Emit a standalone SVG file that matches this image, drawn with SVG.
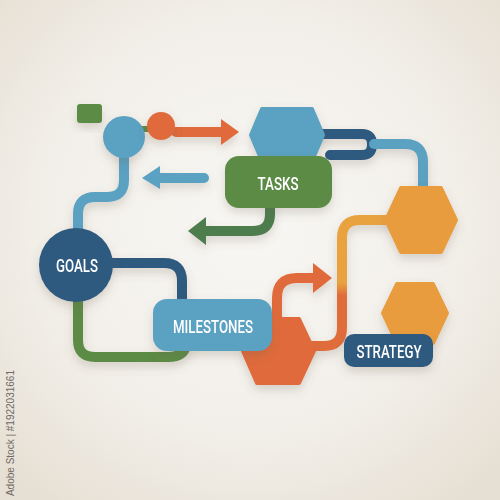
<svg xmlns="http://www.w3.org/2000/svg" width="500" height="500" viewBox="0 0 500 500">
  <defs>
    <radialGradient id="bg" cx="50%" cy="45%" r="70%">
      <stop offset="0" stop-color="#f8f7f4"/>
      <stop offset="0.6" stop-color="#f2efe9"/>
      <stop offset="1" stop-color="#e6dfd3"/>
    </radialGradient>
    <linearGradient id="yo" gradientUnits="userSpaceOnUse" x1="0" y1="220" x2="0" y2="346">
      <stop offset="0" stop-color="#e9a23f"/>
      <stop offset="0.5" stop-color="#e9a23f"/>
      <stop offset="0.6" stop-color="#e06c3a"/>
      <stop offset="1" stop-color="#e06c3a"/>
    </linearGradient>
    <filter id="sh" x="-30%" y="-30%" width="160%" height="180%">
      <feDropShadow dx="0" dy="5" stdDeviation="5" flood-color="#6b5f4d" flood-opacity="0.22"/>
    </filter>
    <style>
      .ln { fill: none; stroke-linecap: round; stroke-linejoin: round; stroke-width: 10; }
      .lbl { fill: #ffffff; font-family: Roboto, "Liberation Sans", sans-serif; font-weight: 500; font-size: 19px; text-anchor: middle; dominant-baseline: central; }
      .lblue { fill: #5aa1c2; }
      .dblue { fill: #2f5a80; }
      .green { fill: #5b8b45; }
      .orange { fill: #e06b3a; }
      .yellow { fill: #e89c3c; }
    </style>
  </defs>
  <rect x="0" y="0" width="500" height="500" fill="url(#bg)"/>

  <g id="connectors" filter="url(#sh)">
    <rect x="140" y="126" width="10" height="6" fill="#5b8b45"/>
    <path class="ln" d="M176,132 H224" stroke="#e06b3a"/>
    <polygon points="239,132 221,119 221,145" fill="#e06b3a"/>
    <path class="ln" d="M204,178 H158" stroke="#5aa1c2"/>
    <polygon points="142,178 160,166 160,189" fill="#5aa1c2"/>
    <path class="ln" d="M124,155 V180 Q124,197 107,197 H95 Q78,197 78,214 V234" stroke="#5aa1c2" stroke-linecap="butt"/>
    <path class="ln" d="M110,263 H164 Q182,263 182,281 V303" stroke="#2f5a80" stroke-linecap="butt"/>
    <path class="ln" d="M78,298 V340 Q78,357 95,357 H168 Q184,357 186,345" stroke="#5b8b45" stroke-linecap="butt"/>
    <path class="ln" d="M315,134 H362 Q372,134 372,144 V145 Q372,155 362,155 H330" stroke="#2f5a80"/>
    <path class="ln" d="M374,144 H405 Q423,144 423,162 V192" stroke="#5aa1c2" stroke-linecap="butt"/>
    <path class="ln" d="M270,205 V214 Q270,231 253,231 H203" stroke="#4e7b4e" stroke-linecap="butt"/>
    <polygon points="188,231 206,217 206,245" fill="#4e7b4e"/>
    <path class="ln" d="M388,220 H360 Q342,220 342,238 V328 Q342,346 324,346 H305" stroke="url(#yo)" stroke-linecap="butt"/>
  </g>

  <g id="node-green-square" filter="url(#sh)">
    <rect x="77" y="104" width="25" height="19" rx="3" class="green"/>
  </g>
  <g id="node-blue-circle" filter="url(#sh)">
    <circle cx="124" cy="137" r="21" class="lblue"/>
  </g>
  <g id="node-orange-circle" filter="url(#sh)">
    <circle cx="161" cy="126" r="14" class="orange"/>
  </g>

  <g id="node-blue-hex" filter="url(#sh)">
    <polygon points="262,109 312,109 323,135 312,161 262,161 251,135" class="lblue" stroke="#5aa1c2" stroke-width="4" stroke-linejoin="round"/>
  </g>
  <g id="node-tasks" filter="url(#sh)">
    <rect x="225" y="156" width="107" height="52" rx="14" class="green"/>
    <text x="278" y="183" class="lbl" textLength="41" lengthAdjust="spacingAndGlyphs">TASKS</text>
  </g>

  <g id="node-orange-hex" filter="url(#sh)">
    <polygon points="401,188 441,188 456,220 441,252 401,252 386,220" class="yellow" stroke="#e89c3c" stroke-width="4" stroke-linejoin="round"/>
  </g>

  <g id="node-goals" filter="url(#sh)">
    <circle cx="76" cy="265" r="37" class="dblue"/>
    <text x="77" y="265" class="lbl" textLength="42" lengthAdjust="spacingAndGlyphs">GOALS</text>
  </g>

  <g id="node-red-hex" filter="url(#sh)">
    <path class="ln" d="M277,322 V298 Q277,278 297,278 H316" stroke="#e06b3a" stroke-linecap="butt"/>
    <polygon points="332,278 313,263 313,293" fill="#e06b3a"/>
    <polygon points="257,319 299,319 314,351 299,383 257,383 243,351" class="orange" stroke="#e06b3a" stroke-width="4" stroke-linejoin="round"/>
  </g>

  <g id="node-milestones" filter="url(#sh)">
    <rect x="153" y="299" width="119" height="52" rx="14" class="lblue"/>
    <text x="213" y="326" class="lbl" textLength="80" lengthAdjust="spacingAndGlyphs">MILESTONES</text>
  </g>

  <g id="node-yellow-hex" filter="url(#sh)">
    <polygon points="397,284 433,284 447,313 433,343 397,343 383,313" class="yellow" stroke="#e89c3c" stroke-width="4" stroke-linejoin="round"/>
  </g>

  <g id="node-strategy" filter="url(#sh)">
    <rect x="344" y="334" width="89" height="33" rx="10" class="dblue"/>
    <text x="389" y="351" class="lbl" textLength="65" lengthAdjust="spacingAndGlyphs">STRATEGY</text>
  </g>

  <text x="0" y="0" transform="translate(14,370) rotate(-90)" text-anchor="end" font-family="'Liberation Sans', sans-serif" font-size="10" fill="#6f6a64">Adobe Stock | #1922031661</text>
</svg>
